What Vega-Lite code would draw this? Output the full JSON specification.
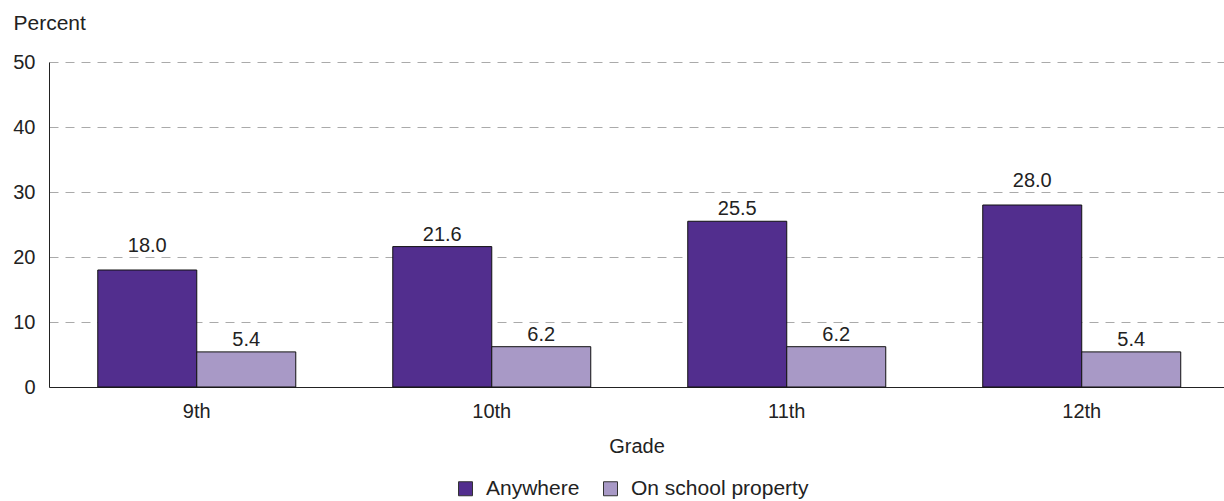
{
  "$schema": "https://vega.github.io/schema/vega-lite/v6.json",
  "autosize": "none",
  "width": 1175,
  "height": 325,
  "padding": {"left": 49, "top": 62, "right": 0, "bottom": 114},
  "background": "white",
  "config": {
    "font": "Liberation Sans",
    "view": {"stroke": null}
  },
  "data": {
    "values": [
      {"grade": "9th", "location": "Anywhere", "percent": 18.0},
      {"grade": "9th", "location": "On school property", "percent": 5.4},
      {"grade": "10th", "location": "Anywhere", "percent": 21.6},
      {"grade": "10th", "location": "On school property", "percent": 6.2},
      {"grade": "11th", "location": "Anywhere", "percent": 25.5},
      {"grade": "11th", "location": "On school property", "percent": 6.2},
      {"grade": "12th", "location": "Anywhere", "percent": 28.0},
      {"grade": "12th", "location": "On school property", "percent": 5.4}
    ]
  },
  "encoding": {
    "x": {
      "field": "grade",
      "type": "nominal",
      "sort": ["9th", "10th", "11th", "12th"],
      "scale": {"paddingInner": 0.3288, "paddingOuter": 0.156, "align": 0.53},
      "axis": {
        "title": "Grade",
        "labelAngle": 0,
        "labelFontSize": 20,
        "labelColor": "#222222",
        "labelPadding": 14,
        "ticks": false,
        "domainColor": "#222222",
        "domainWidth": 1,
        "titleFontSize": 20,
        "titleFontWeight": "normal",
        "titleColor": "#222222",
        "titlePadding": 15
      }
    },
    "xOffset": {
      "field": "location",
      "type": "nominal",
      "sort": ["Anywhere", "On school property"],
      "scale": {"paddingInner": 0, "paddingOuter": 0}
    },
    "y": {
      "field": "percent",
      "type": "quantitative",
      "scale": {"domain": [0, 50], "nice": false},
      "axis": {
        "values": [0, 10, 20, 30, 40, 50],
        "title": "Percent",
        "titleAngle": 0,
        "titleAlign": "left",
        "titleBaseline": "middle",
        "titleX": -36,
        "titleY": -39,
        "titleFontSize": 21,
        "titleFontWeight": "normal",
        "titleColor": "#222222",
        "labelFontSize": 20,
        "labelColor": "#222222",
        "labelPadding": 14,
        "ticks": false,
        "domainColor": "#222222",
        "domainWidth": 1,
        "grid": true,
        "gridColor": "#aaaaaa",
        "gridDash": [9, 7],
        "gridWidth": 1
      }
    }
  },
  "layer": [
    {
      "mark": {"type": "bar", "stroke": "#111111", "strokeWidth": 1},
      "encoding": {
        "color": {
          "field": "location",
          "type": "nominal",
          "sort": ["Anywhere", "On school property"],
          "scale": {"domain": ["Anywhere", "On school property"], "range": ["#522e8e", "#a899c6"]},
          "legend": {
            "title": null,
            "orient": "none",
            "direction": "horizontal",
            "legendX": 406,
            "legendY": 416,
            "symbolType": "square",
            "symbolSize": 196,
            "symbolStrokeColor": "#333333",
            "symbolStrokeWidth": 1,
            "labelFontSize": 21,
            "labelColor": "#222222",
            "labelOffset": 10,
            "labelLimit": 400,
            "columnPadding": 20
          }
        }
      }
    },
    {
      "transform": [{"filter": "datum.percent != 18 && datum.percent != 28"}],
      "mark": {"type": "text", "dy": -2, "fontSize": 20, "color": "#222222", "baseline": "bottom"},
      "encoding": {
        "text": {"field": "percent", "type": "quantitative", "format": ".1f"}
      }
    },
    {
      "transform": [{"filter": "datum.percent == 18 || datum.percent == 28"}],
      "mark": {"type": "text", "dy": -14, "fontSize": 20, "color": "#222222", "baseline": "bottom"},
      "encoding": {
        "text": {"field": "percent", "type": "quantitative", "format": ".1f"}
      }
    }
  ]
}
